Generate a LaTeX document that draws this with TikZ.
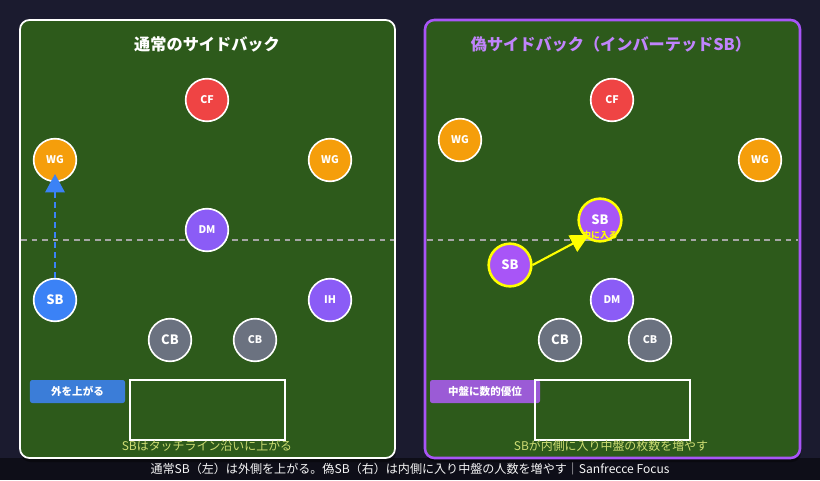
\documentclass[tikz,border=0pt]{standalone}
\usepackage{fontspec}
\setmainfont{Noto Sans CJK JP}
\usetikzlibrary{arrows.meta}
\definecolor{bgnavy}{HTML}{1B1B2F}
\definecolor{barnavy}{HTML}{0E0E18}
\definecolor{pitch}{HTML}{2D5A1B}
\definecolor{cfred}{HTML}{EF4444}
\definecolor{wgorange}{HTML}{F59E0B}
\definecolor{mfpurple}{HTML}{8B5CF6}
\definecolor{sbblue}{HTML}{3B82F6}
\definecolor{cbgray}{HTML}{6B7280}
\definecolor{fbpurple}{HTML}{A855F7}
\definecolor{titlepurple}{HTML}{C084FC}
\definecolor{notecol}{HTML}{CDDC73}
\definecolor{tagblue}{HTML}{3B7DD8}
\definecolor{tagpurple}{HTML}{9B5BD6}
\definecolor{arrowyellow}{HTML}{FFFF00}
\begin{document}
\begin{tikzpicture}[x=0.03cm,y=-0.03cm,
    player/.style={circle,draw=white,line width=1.4pt,minimum size=1.28cm,inner sep=0pt,
      text=white,font=\bfseries\fontsize{9}{10}\selectfont},
    bigtag/.style={font=\bfseries\fontsize{11}{12}\selectfont},
    fakeback/.style={player,fill=fbpurple,draw=arrowyellow,line width=2.2pt},
    panelhead/.style={font=\bfseries\fontsize{13.8}{15}\selectfont},
    notetext/.style={text=notecol,font=\fontsize{10.2}{12}\selectfont},
    tagbox/.style={rounded corners=2pt,text=white,font=\bfseries\fontsize{9}{10}\selectfont,
      minimum height=0.69cm,inner sep=0pt},
    halfway/.style={draw=gray!70,line width=1pt,dash pattern=on 5pt off 4pt}]
  % background and bounding box
  \fill[bgnavy] (0,0) rectangle (820,480);
  \fill[barnavy] (0,458) rectangle (820,480);

  % left panel
  \fill[black,opacity=0.35,rounded corners=8pt] (21,22) rectangle (396,462);
  \draw[fill=pitch,draw=white,line width=1.5pt,rounded corners=8pt] (20,20) rectangle (395,458);
  \draw[halfway] (21,240) -- (394,240);
  \node[panelhead,text=white] (ltitle) at (207,44) {通常のサイドバック};

  % right panel
  \fill[black,opacity=0.35,rounded corners=8pt] (426,22) rectangle (801,462);
  \draw[fill=pitch,draw=fbpurple,line width=2.2pt,rounded corners=8pt] (425,20) rectangle (800,458);
  \draw[halfway] (427,240) -- (798,240);
  \node[panelhead,text=titlepurple] (rtitle) at (611,44) {偽サイドバック（インバーテッドSB）};

  % left players
  \node[player,fill=cfred] (lcf) at (207,100) {CF};
  \node[player,fill=wgorange] (lwgl) at (55,160) {WG};
  \node[player,fill=wgorange] (lwgr) at (330,160) {WG};
  \node[player,fill=mfpurple] (ldm) at (207,230) {DM};
  \node[player,fill=sbblue,bigtag] (lsb) at (55,300) {SB};
  \node[player,fill=mfpurple] (lih) at (330,300) {IH};
  \node[player,fill=cbgray,bigtag] (lcbl) at (170,340) {CB};
  \node[player,fill=cbgray] (lcbr) at (255,340) {CB};

  % overlap run of the normal full back
  \coordinate (lrun) at (55,174);
  \draw[sbblue,line width=1.8pt,dash pattern=on 5pt off 3.5pt,
    -{Triangle[length=0.55cm,width=0.58cm]}] (lsb.north) -- (lrun);

  % right players
  \node[player,fill=cfred] (rcf) at (612,100) {CF};
  \node[player,fill=wgorange] (rwgl) at (460,140) {WG};
  \node[player,fill=wgorange] (rwgr) at (760,160) {WG};
  \node[fakeback,bigtag] (rsbin) at (600,220) {SB};
  \node[fakeback,bigtag] (rsb) at (510,265) {SB};
  \node[player,fill=mfpurple] (rdm) at (612,300) {DM};
  \node[player,fill=cbgray,bigtag] (rcbl) at (560,340) {CB};
  \node[player,fill=cbgray] (rcbr) at (650,340) {CB};

  % inverted run into midfield
  \coordinate (rrun) at (589,235);
  \draw[arrowyellow,line width=1.8pt,-{Triangle[length=0.55cm,width=0.55cm]}] (rsb.east) -- (rrun);
  \node[text=arrowyellow,font=\bfseries\fontsize{7.5}{8}\selectfont] (rinlabel) at (600,235) {中に入る};

  % tags and boxes
  \node[tagbox,fill=tagblue,minimum width=2.85cm] (ltag) at (77.5,391.5) {外を上がる};
  \draw[white,line width=1.5pt] (130,380) rectangle (285,440);
  \node[tagbox,fill=tagpurple,minimum width=3.3cm] (rtag) at (485,391.5) {中盤に数的優位};
  \draw[white,line width=1.5pt] (535,380) rectangle (690,440);

  % notes
  \node[notetext] (lnote) at (207,446) {SBはタッチライン沿いに上がる};
  \node[notetext] (rnote) at (611,446) {SBが内側に入り中盤の枚数を増やす};
  \node[text=white!92!gray,font=\fontsize{10.3}{12}\selectfont] (footer) at (410,469)
    {通常SB（左）は外側を上がる。偽SB（右）は内側に入り中盤の人数を増やす｜Sanfrecce Focus};
\end{tikzpicture}
\end{document}
